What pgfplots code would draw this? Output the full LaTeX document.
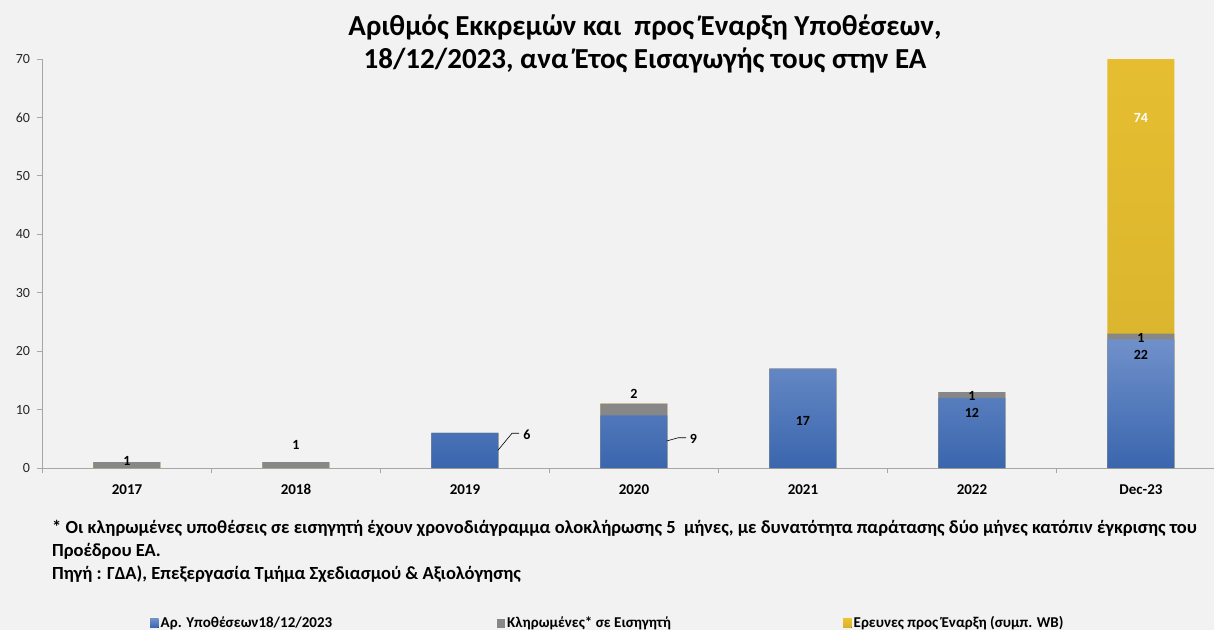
\documentclass[border=0pt]{standalone}
\usepackage{pgfplots}
\pgfplotsset{compat=1.18}
\usepackage{pgfplotstable}
\usepackage{fontspec}
\setmainfont{Carlito}
\definecolor{bg}{HTML}{F2F2F2}
\definecolor{bluetop}{HTML}{7090CA}
\definecolor{bluebot}{HTML}{3A66AE}
\definecolor{greybar}{HTML}{878787}
\definecolor{yeltop}{HTML}{ECC232}
\definecolor{yelbot}{HTML}{D6B22C}
\definecolor{axisgrey}{HTML}{A6A6A6}

% x: category index (0=2017 ... 6=Dec-23)
\pgfplotstableread{
x blue grey yellow
0 0  1 0
1 0  1 0
2 6  0 0
3 9  2 0
4 17 0 0
5 12 1 0
6 22 1 74
}\datatable

\begin{document}
\begin{tikzpicture}[x=1pt,y=1pt]
\fill[bg] (0,0) rectangle (1214,630);
\begin{axis}[
  at={(42.5pt,162pt)}, anchor=south west,
  scale only axis, width=1183pt, height=409pt,
  xmin=-0.5, xmax=6.5, ymin=0, ymax=70,
  axis x line*=bottom, axis y line*=left,
  axis line style={draw=axisgrey, line width=0.9pt, -},
  ytick={0,10,...,70},
  xtick={0,...,6},
  xticklabels={2017,2018,2019,2020,2021,2022,Dec-23},
  minor xtick={-0.5,0.5,...,6.5},
  major x tick style={draw=none},
  tick align=outside,
  major tick length=5pt, minor tick length=5pt,
  every tick/.style={axisgrey, line width=0.8pt},
  minor tick style={axisgrey, line width=0.8pt},
  /pgf/number format/assume math mode=true,
  xticklabel style={font=\bfseries\fontsize{15}{15}\selectfont, text=black, yshift=-8pt},
  yticklabel style={font=\fontsize{14}{14}\selectfont, text=black!85, xshift=-4pt},
  bar width=67pt,
  legend columns=3,
  reverse legend,
  legend style={at={(0.0909,-0.379)}, anchor=west, draw=none, fill=none,
    font=\bfseries\fontsize{15}{15}\selectfont, inner sep=0pt,
    /tikz/every even column/.append style={column sep=0pt}},
  legend image code/.code={\fill[#1] (0pt,-4.5pt) rectangle (8.5pt,4.5pt);},
]
% drawn from back to front: totals first so the lower segments overlay them
\addplot[ybar, bar shift=0pt, draw=none, shading=axis, top color=yeltop, bottom color=yelbot,
  y filter/.expression={y==0 ? nan : y}]
  table[x=x, y expr=\thisrow{blue}+\thisrow{grey}+\thisrow{yellow}*(\thisrow{yellow}>0 ? 1 : -1000)] {\datatable};
\addlegendentry{\makebox[334pt][l]{Ερευνες προς Έναρξη (συμπ. WB)}}
\addplot[ybar, bar shift=0pt, draw=none, fill=greybar,
  y filter/.expression={y==0 ? nan : y}]
  table[x=x, y expr=\thisrow{blue}+\thisrow{grey}*(\thisrow{grey}>0 ? 1 : -1000)] {\datatable};
\addlegendentry{\makebox[334pt][l]{Κληρωμένες* σε Εισηγητή}}
\addplot[ybar, bar shift=0pt, draw=none, shading=axis, top color=bluetop, bottom color=bluebot,
  y filter/.expression={y==0 ? nan : y}]
  table[x=x, y=blue] {\datatable};
\addlegendentry{\makebox[334pt][l]{Αρ. Υποθέσεων18/12/2023}}

% data labels
\begin{scope}[every node/.style={font=\bfseries\fontsize{14}{14}\selectfont, text=black}]
\node at (axis cs:0,1.2) {1};
\node at (axis cs:1,3.9) {1};
\draw[black, line width=0.6pt] (axis cs:2.195,3.03) -- (axis cs:2.278,5.94) -- (axis cs:2.320,5.94);
\node at (axis cs:2.367,5.75) {6};
\node at (axis cs:3,12.67) {2};
\draw[black, line width=0.6pt] (axis cs:3.193,4.62) -- (axis cs:3.262,5.18) -- (axis cs:3.308,5.18);
\node at (axis cs:3.352,4.96) {9};
\node at (axis cs:4,8.04) {17};
\node at (axis cs:5,12.3) {1};
\node at (axis cs:5,9.4) {12};
\node at (axis cs:6,22.25) {1};
\node at (axis cs:6,19.3) {22};
\node[text=white] at (axis cs:6,59.9) {74};
\end{scope}
\end{axis}

\node[font=\bfseries\fontsize{29}{33}\selectfont, anchor=base] at (645,594)
  {Αριθμός Εκκρεμών και\ \ προς Έναρξη Υποθέσεων,};
\node[font=\bfseries\fontsize{29}{33}\selectfont, anchor=base] at (645,561)
  {18/12/2023, ανα Έτος Εισαγωγής τους στην ΕΑ};

\begin{scope}[every node/.style={font=\bfseries\fontsize{18.5}{18.5}\selectfont, anchor=base west, inner sep=0pt}]
\node at (52,97) {* Οι κληρωμένες υποθέσεις σε εισηγητή έχουν χρονοδιάγραμμα ολοκλήρωσης 5\ \ μήνες, με δυνατότητα παράτασης δύο μήνες κατόπιν έγκρισης του};
\node at (52,74) {Προέδρου ΕΑ.};
\node at (52,51) {Πηγή : ΓΔΑ), Επεξεργασία Τμήμα Σχεδιασμού \& Αξιολόγησης};
\end{scope}

\pgfresetboundingbox
\useasboundingbox (0,0) rectangle (1214,630);
\end{tikzpicture}
\end{document}
